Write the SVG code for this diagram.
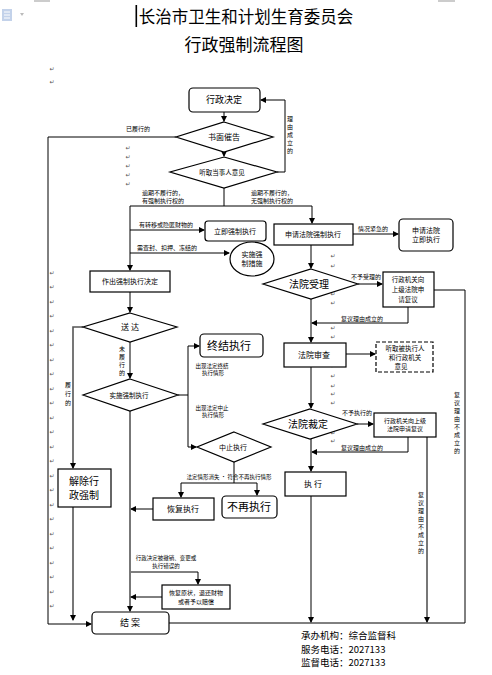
<svg xmlns="http://www.w3.org/2000/svg" width="492" height="675" viewBox="0 0 492 675">
<style>
.t{font-family:"Noto Sans CJK SC","Noto Sans",sans-serif;text-anchor:middle;fill:#000}
.b{fill:#fff;stroke:#000;stroke-width:1.2}
.ln{fill:none;stroke:#000;stroke-width:1}
.lg{fill:none;stroke:#555;stroke-width:1.6}
.pm{font-family:"DejaVu Sans",sans-serif;font-size:6px;fill:#555;text-anchor:middle}
.s5{font-size:5.5px}.s6{font-size:6px}.s65{font-size:6.5px}.s7{font-size:7px}.s8{font-size:8px}.s9{font-size:9px}.s10{font-size:10px}.s11{font-size:11px}
</style>
<defs>
<marker id="a" markerWidth="6" markerHeight="6" refX="5" refY="3" orient="auto" markerUnits="userSpaceOnUse">
<path d="M0,0 L6,3 L0,6 Z" fill="#000"/>
</marker>
</defs>
<rect width="492" height="675" fill="#fff"/>
<!-- page decorations -->
<path d="M34,1 H50 M438,1 H455" stroke="#999" stroke-width="1"/>
<rect x="2" y="9" width="10" height="12" fill="#c3d2ea"/>
<path d="M4,12 H10 M4,15 H10 M4,18 H10" stroke="#fff" stroke-width="1"/>
<path d="M20,13 L24,13 L22,16 Z" fill="#bbb"/>
<rect x="135.5" y="5" width="1.6" height="22" fill="#000"/>
<g id="title">
<text class="t" x="246" y="23" font-size="16.5">长治市卫生和计划生育委员会</text>
<text class="t" x="244" y="51" font-size="17">行政强制流程图</text>
</g>
<g id="marks">
<text class="pm" x="52" y="71">↵</text><text class="pm" x="52" y="84">↵</text>
<text class="pm" x="52" y="275">↵</text><text class="pm" x="52" y="289">↵</text><text class="pm" x="52" y="304">↵</text><text class="pm" x="52" y="318">↵</text><text class="pm" x="52" y="333">↵</text><text class="pm" x="52" y="347">↵</text><text class="pm" x="52" y="362">↵</text><text class="pm" x="52" y="376">↵</text><text class="pm" x="52" y="391">↵</text><text class="pm" x="52" y="405">↵</text><text class="pm" x="52" y="420">↵</text><text class="pm" x="52" y="434">↵</text><text class="pm" x="52" y="449">↵</text><text class="pm" x="52" y="463">↵</text><text class="pm" x="52" y="478">↵</text><text class="pm" x="52" y="492">↵</text><text class="pm" x="52" y="507">↵</text><text class="pm" x="52" y="521">↵</text><text class="pm" x="52" y="536">↵</text><text class="pm" x="52" y="550">↵</text><text class="pm" x="52" y="565">↵</text><text class="pm" x="52" y="579">↵</text><text class="pm" x="52" y="594">↵</text><text class="pm" x="52" y="608">↵</text>
<text class="pm" x="128" y="150">↵</text><text class="pm" x="128" y="159">↵</text><text class="pm" x="128" y="168">↵</text><text class="pm" x="128" y="177">↵</text><text class="pm" x="128" y="186">↵</text>
<text class="pm" x="333" y="258">↵</text><text class="pm" x="333" y="268">↵</text><text class="pm" x="333" y="296">↵</text><text class="pm" x="333" y="305">↵</text><text class="pm" x="333" y="330">↵</text><text class="pm" x="333" y="339">↵</text><text class="pm" x="333" y="348">↵</text><text class="pm" x="333" y="368">↵</text><text class="pm" x="333" y="378">↵</text><text class="pm" x="333" y="388">↵</text><text class="pm" x="333" y="396">↵</text><text class="pm" x="333" y="405">↵</text><text class="pm" x="333" y="435">↵</text><text class="pm" x="333" y="443">↵</text>
</g>
<g id="connectors">
<path class="ln" d="M224,112 V121" marker-end="url(#a)"/>
<path class="ln" d="M224,152 V156" marker-end="url(#a)"/>
<path class="ln" d="M277,172 H285 V100 H261" marker-end="url(#a)"/>
<path class="ln" d="M176,137 H48 V624 H91" marker-end="url(#a)"/>
<path class="ln" d="M224,188 V206 M130,206 H312"/>
<path class="ln" d="M130,206 V270" marker-end="url(#a)"/>
<path class="ln" d="M312,206 V223" marker-end="url(#a)"/>
<path class="ln" d="M130,230 H204" marker-end="url(#a)"/>
<path class="ln" d="M130,253 H229" marker-end="url(#a)"/>
<path class="ln" d="M353,234 H398" marker-end="url(#a)"/>
<path class="ln" d="M311,245 V268" marker-end="url(#a)"/>
<path class="ln" d="M358,284 H382" marker-end="url(#a)"/>
<path class="ln" d="M434,290 H465 V623 H169"/>
<path class="ln" d="M408,307 V323 H312" marker-end="url(#a)"/>
<path class="ln" d="M311,299 V342" marker-end="url(#a)"/>
<path class="ln" d="M346,354 H375" marker-end="url(#a)"/>
<path class="ln" d="M311,367 V408" marker-end="url(#a)"/>
<path class="ln" d="M357,424 H373" marker-end="url(#a)"/>
<path class="ln" d="M408,437 V452 H312" marker-end="url(#a)"/>
<path class="lg" d="M427,437 V622" marker-end="url(#a)"/>
<path class="lg" d="M311,439 V471" marker-end="url(#a)"/>
<path class="ln" d="M311,496 V622" marker-end="url(#a)"/>
<path class="ln" d="M130,292 V312" marker-end="url(#a)"/>
<path class="lg" d="M83,327 H73 V468" marker-end="url(#a)"/>
<path class="lg" d="M73,507 V620" marker-end="url(#a)"/>
<path class="ln" d="M130,342 V378" marker-end="url(#a)"/>
<path class="ln" d="M178,395 H188 V346 H199" marker-end="url(#a)"/>
<path class="ln" d="M188,395 V447 H196" marker-end="url(#a)"/>
<path class="ln" d="M234,462 V483 M181,483 H257"/>
<path class="ln" d="M181,483 V497" marker-end="url(#a)"/>
<path class="ln" d="M257,483 V495" marker-end="url(#a)"/>
<path class="ln" d="M153,509 H131" marker-end="url(#a)"/>
<path class="lg" d="M130,411 V611" marker-end="url(#a)"/>
<path class="ln" d="M131,572 H198 V584" marker-end="url(#a)"/>
<path class="ln" d="M162,597 H131" marker-end="url(#a)"/>
</g>
<g id="labels">
<text class="t s6" x="138" y="131">已履行的</text>
<text class="t s6"><tspan x="290" y="121">理</tspan><tspan x="290" y="129">由</tspan><tspan x="290" y="137">成</tspan><tspan x="290" y="145">立</tspan><tspan x="290" y="153">的</tspan></text>
<text class="t s6" x="163" y="195">逾期不履行的，</text>
<text class="t s6" x="163" y="203">有强制执行权的</text>
<text class="t s6" x="272" y="195">逾期不履行的，</text>
<text class="t s6" x="272" y="203">无强制执行权的</text>
<text class="t s6" x="166" y="227">有转移或隐匿财物的</text>
<text class="t s6" x="167" y="250">需查封、扣押、冻结的</text>
<text class="t s6" x="373" y="231">情况紧急的</text>
<text class="t s6" x="366" y="279">不予受理的</text>
<text class="t s6" x="362" y="321">复议理由成立的</text>
<text class="t s6" x="357" y="415">不予执行的</text>
<text class="t s6" x="362" y="450">复议理由成立的</text>
<text class="t s6"><tspan x="457" y="397">复</tspan><tspan x="457" y="405">议</tspan><tspan x="457" y="413">理</tspan><tspan x="457" y="421">由</tspan><tspan x="457" y="429">不</tspan><tspan x="457" y="437">成</tspan><tspan x="457" y="445">立</tspan><tspan x="457" y="453">的</tspan></text>
<text class="t s6"><tspan x="421" y="497">复</tspan><tspan x="421" y="505">议</tspan><tspan x="421" y="513">理</tspan><tspan x="421" y="521">由</tspan><tspan x="421" y="529">不</tspan><tspan x="421" y="537">成</tspan><tspan x="421" y="545">立</tspan><tspan x="421" y="553">的</tspan></text>
<text class="t s6"><tspan x="68" y="387">履</tspan><tspan x="68" y="396">行</tspan><tspan x="68" y="405">的</tspan></text>
<text class="t s6"><tspan x="122" y="351">未</tspan><tspan x="122" y="359">履</tspan><tspan x="122" y="367">行</tspan><tspan x="122" y="375">的</tspan></text>
<text class="t s55 s5" x="212" y="368">出现法定终结</text>
<text class="t s5" x="213" y="375">执行情形</text>
<text class="t s5" x="212" y="410">出现法定中止</text>
<text class="t s5" x="213" y="417">执行情形</text>
<text class="t s5" x="229" y="479">法定情形消失 · 符合不再执行情形</text>
<text class="t s55 s5" x="166" y="560">行政决定被撤销、变更或</text>
<text class="t s5" x="166" y="568">执行错误的</text>
</g>
<g id="n_decision"><rect class="b" x="189" y="88" width="71" height="24" rx="4"/><text class="t s9" x="224" y="103">行政决定</text></g>
<g id="n_cuigao"><polygon class="b" points="224,122 273,137 224,152 176,137"/><text class="t s8" x="224" y="140">书面催告</text></g>
<g id="n_tingqu"><polygon class="b" points="224,157 277,172 224,188 170,172"/><text class="t s65" x="222" y="175">听取当事人意见</text></g>
<g id="n_zuochu"><rect class="b" x="90" y="271" width="80" height="21"/><text class="t s7" x="130" y="284">作出强制执行决定</text></g>
<g id="n_liji"><rect class="b" x="205" y="221" width="61" height="20" rx="3"/><text class="t s7" x="235" y="234">立即强制执行</text></g>
<g id="n_cuoshi"><ellipse class="b" cx="252" cy="259" rx="22" ry="17"/><text class="t s7" x="252" y="257">实施强</text><text class="t s7" x="252" y="266">制措施</text></g>
<g id="n_shenqing"><rect class="b" x="274" y="224" width="79" height="21"/><text class="t s7" x="313" y="237">申请法院强制执行</text></g>
<g id="n_lijizhixing"><rect class="b" x="399" y="219" width="54" height="32" rx="4"/><text class="t s7" x="426" y="233">申请法院</text><text class="t s7" x="426" y="242">立即执行</text></g>
<g id="n_shouli"><polygon class="b" points="311,269 358,284 311,299 263,284"/><text class="t s10" x="309" y="288">法院受理</text></g>
<g id="n_fuyi1"><rect class="b" x="383" y="272" width="51" height="35"/><text class="t s65" x="408" y="282">行政机关向</text><text class="t s65" x="408" y="292">上级法院申</text><text class="t s65" x="408" y="302">请复议</text></g>
<g id="n_shencha"><rect class="b" x="284" y="343" width="62" height="24"/><text class="t s8" x="314" y="358">法院审查</text></g>
<g id="n_tingqu2"><rect x="376" y="342" width="57" height="30" fill="#fff" stroke="#000" stroke-width="1.2" stroke-dasharray="4,2"/><text class="t s65" x="405" y="351">听取被执行人</text><text class="t s65" x="405" y="360">和行政机关</text><text class="t s65" x="401" y="369">意见</text></g>
<g id="n_caiding"><polygon class="b" points="310,409 357,424 310,439 263,424"/><text class="t s10" x="308" y="428">法院裁定</text></g>
<g id="n_fuyi2"><rect class="b" x="374" y="413" width="62" height="24"/><text class="t s6" x="405" y="423">行政机关向上级</text><text class="t s6" x="405" y="431">法院申请复议</text></g>
<g id="n_zhixing"><rect class="b" x="285" y="472" width="61" height="24"/><text class="t s8" x="313" y="487">执  行</text></g>
<g id="n_songda"><polygon class="b" points="130,313 177,327 130,342 83,327"/><text class="t s8" x="130" y="330">送  达</text></g>
<g id="n_shishi"><polygon class="b" points="130,379 178,395 130,411 83,395"/><text class="t s65" x="129" y="398">实施强制执行</text></g>
<g id="n_zhongjie"><rect class="b" x="200" y="334" width="63" height="23" rx="4"/><text class="t s11" x="229" y="350">终结执行</text></g>
<g id="n_zhongzhi"><polygon class="b" points="234,432 271,447 234,462 197,447"/><text class="t s7" x="233" y="450">中止执行</text></g>
<g id="n_huifu"><rect class="b" x="153" y="498" width="61" height="22"/><text class="t s8" x="183" y="512">恢复执行</text></g>
<g id="n_buzai"><rect class="b" x="222" y="496" width="55" height="22" rx="4"/><text class="t s11" x="249" y="511">不再执行</text></g>
<g id="n_jiechu"><rect class="b" x="58" y="469" width="53" height="38"/><text class="t s10" x="84" y="485">解除行</text><text class="t s10" x="84" y="499">政强制</text></g>
<g id="n_peichang"><rect class="b" x="162" y="585" width="68" height="24"/><text class="t s6" x="196" y="595">恢复原状，退还财物</text><text class="t s6" x="196" y="604">或者予以赔偿</text></g>
<g id="n_jiean"><rect class="b" x="92" y="612" width="77" height="22" rx="4"/><text class="t s9" x="130" y="626">结  案</text></g>
<g id="footer">
<text font-family="Noto Sans CJK SC, sans-serif" font-size="9.5" x="301" y="639">承办机构：综合监督科</text>
<text font-family="Noto Sans CJK SC, sans-serif" font-size="9.5" x="301" y="653">服务电话：2027133</text>
<text font-family="Noto Sans CJK SC, sans-serif" font-size="9.5" x="301" y="666">监督电话：2027133</text>
</g>
</svg>
